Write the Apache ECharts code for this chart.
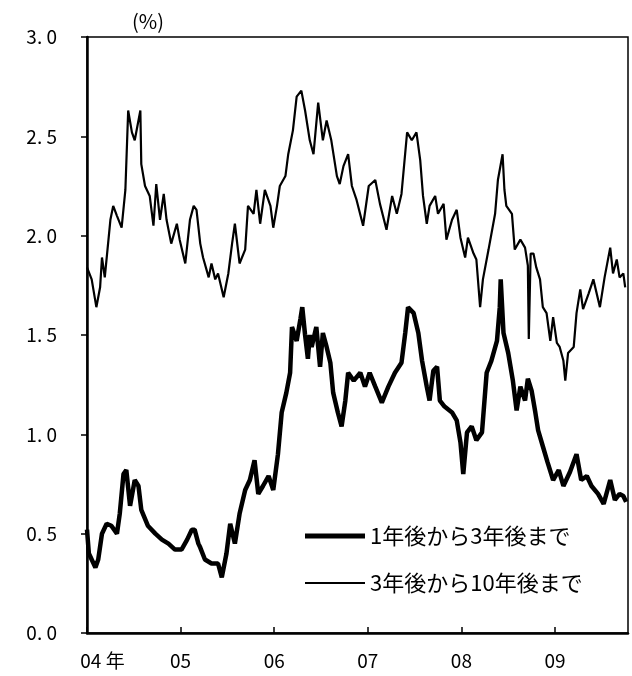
<!DOCTYPE html>
<html>
<head>
<meta charset="utf-8">
<script src="https://cdn.jsdelivr.net/npm/echarts@6/dist/echarts.min.js"></script>
<style>html,body{margin:0;padding:0;background:#fff}#c{width:632px;height:676px}</style>
</head>
<body>
<div id="c"></div>
<script>
// Series names
var seriesNames = ['1年後から3年後まで', '3年後から10年後まで'];
// x tick labels
var yearLabels = {2004: '04 年', 2005: '05', 2006: '06', 2007: '07', 2008: '08', 2009: '09'};

// 1年後から3年後まで (thick)
var thickYears = [2004.00,2004.02,2004.09,2004.12,2004.16,2004.21,2004.26,2004.32,2004.35,2004.39,2004.42,2004.46,2004.51,2004.55,2004.58,2004.65,2004.73,2004.80,2004.87,2004.94,
2005.01,2005.07,2005.12,2005.15,2005.19,2005.21,2005.26,2005.33,2005.40,2005.44,2005.49,2005.53,2005.58,2005.63,2005.69,2005.74,2005.79,2005.83,2005.88,2005.94,2005.99,
2006.04,2006.08,2006.13,2006.17,2006.19,2006.24,2006.28,2006.30,2006.33,2006.36,2006.38,2006.40,2006.45,2006.49,2006.52,2006.56,2006.60,2006.63,2006.68,2006.72,2006.76,2006.79,2006.85,2006.92,2006.97,
2007.02,2007.08,2007.15,2007.22,2007.29,2007.36,2007.40,2007.43,2007.49,2007.54,2007.58,2007.63,2007.66,2007.70,2007.74,2007.77,2007.82,2007.90,2007.95,2007.99,
2008.02,2008.06,2008.11,2008.16,2008.22,2008.27,2008.32,2008.38,2008.41,2008.42,2008.45,2008.50,2008.55,2008.59,2008.63,2008.68,2008.71,2008.75,2008.79,2008.82,2008.87,2008.92,2008.98,
2009.04,2009.09,2009.16,2009.23,2009.28,2009.34,2009.39,2009.46,2009.52,2009.59,2009.64,2009.69,2009.73,2009.76];
var thickValues = [0.52,0.40,0.33,0.37,0.50,0.55,0.54,0.50,0.60,0.80,0.82,0.64,0.77,0.74,0.62,0.54,0.50,0.47,0.45,0.42,
0.42,0.47,0.52,0.52,0.45,0.43,0.37,0.35,0.35,0.28,0.40,0.55,0.45,0.60,0.72,0.77,0.87,0.70,0.74,0.79,0.72,
0.90,1.11,1.21,1.31,1.54,1.47,1.58,1.64,1.50,1.38,1.50,1.44,1.54,1.34,1.51,1.44,1.36,1.21,1.11,1.04,1.17,1.31,1.27,1.31,1.24,
1.31,1.24,1.16,1.24,1.31,1.36,1.51,1.64,1.61,1.51,1.37,1.24,1.17,1.32,1.34,1.17,1.14,1.11,1.07,0.96,
0.80,1.01,1.04,0.97,1.01,1.31,1.37,1.47,1.64,1.78,1.51,1.41,1.27,1.12,1.24,1.17,1.28,1.22,1.11,1.02,0.94,0.86,0.77,
0.82,0.74,0.81,0.90,0.77,0.79,0.74,0.70,0.65,0.77,0.67,0.70,0.69,0.66];

// 3年後から10年後まで (thin)
var thinYears = [2004.00,2004.05,2004.10,2004.14,2004.16,2004.19,2004.25,2004.28,2004.32,2004.37,2004.41,2004.44,2004.48,2004.51,2004.57,2004.58,2004.62,2004.67,2004.71,2004.74,2004.78,2004.82,2004.85,2004.90,2004.96,2004.99,
2005.05,2005.10,2005.14,2005.17,2005.21,2005.24,2005.30,2005.33,2005.37,2005.40,2005.46,2005.51,2005.55,2005.58,2005.63,2005.69,2005.72,2005.78,2005.81,2005.85,2005.90,2005.96,2005.99,
2006.03,2006.06,2006.12,2006.15,2006.20,2006.24,2006.29,2006.33,2006.38,2006.42,2006.47,2006.52,2006.56,2006.61,2006.67,2006.70,2006.74,2006.79,2006.83,2006.88,2006.95,
2007.01,2007.08,2007.13,2007.20,2007.26,2007.31,2007.36,2007.42,2007.47,2007.52,2007.56,2007.59,2007.63,2007.66,2007.72,2007.75,2007.81,2007.84,2007.90,2007.95,2007.99,
2008.04,2008.07,2008.13,2008.16,2008.20,2008.23,2008.29,2008.36,2008.39,2008.44,2008.46,2008.48,2008.54,2008.57,2008.63,2008.68,2008.71,2008.72,2008.74,2008.77,2008.80,2008.84,2008.87,2008.91,2008.95,2008.98,
2009.02,2009.05,2009.09,2009.11,2009.14,2009.20,2009.23,2009.27,2009.30,2009.36,2009.41,2009.48,2009.53,2009.59,2009.62,2009.66,2009.69,2009.73,2009.75];
var thinValues = [1.84,1.78,1.64,1.74,1.89,1.79,2.08,2.15,2.10,2.04,2.23,2.63,2.52,2.48,2.63,2.36,2.25,2.20,2.05,2.26,2.08,2.21,2.08,1.96,2.06,1.98,
1.86,2.08,2.15,2.13,1.96,1.89,1.79,1.86,1.78,1.81,1.69,1.81,1.96,2.06,1.86,1.93,2.15,2.11,2.23,2.06,2.23,2.15,2.04,
2.15,2.25,2.30,2.41,2.53,2.70,2.73,2.63,2.48,2.41,2.67,2.48,2.58,2.48,2.30,2.26,2.35,2.41,2.25,2.18,2.05,
2.25,2.28,2.16,2.03,2.20,2.11,2.21,2.52,2.48,2.52,2.38,2.20,2.06,2.15,2.20,2.11,2.16,1.98,2.08,2.13,1.99,
1.89,1.99,1.91,1.88,1.64,1.78,1.93,2.11,2.28,2.41,2.23,2.15,2.11,1.93,1.98,1.94,1.85,1.48,1.91,1.91,1.84,1.78,1.64,1.61,1.47,1.59,
1.46,1.44,1.37,1.27,1.41,1.44,1.61,1.73,1.63,1.71,1.78,1.64,1.79,1.94,1.81,1.88,1.79,1.81,1.74];

function zip(xs, ys) { return xs.map(function (x, i) { return [x, ys[i]]; }); }

var FONT = '"Noto Sans CJK JP", "Noto Sans", sans-serif';
var chart = echarts.init(document.getElementById('c'), null, {renderer: 'canvas'});
chart.setOption({
  animation: false,
  backgroundColor: '#fff',
  textStyle: {fontFamily: FONT, color: '#000'},
  title: {text: '(%)', left: 127, top: 6, textStyle: {fontSize: 20, fontWeight: 'normal', color: '#000', fontFamily: FONT}},
  grid: {left: 87, right: 4, top: 37, bottom: 43, show: true, borderColor: '#000', borderWidth: 1.5},
  legend: {
    orient: 'vertical', left: 300, top: 520, itemWidth: 60, itemHeight: 14, itemGap: 25,
    textStyle: {fontSize: 22, color: '#000', fontFamily: FONT},
    itemStyle: {borderWidth: 0},
    data: [
      {name: seriesNames[0], icon: 'path://M0,0L60,0L60,5L0,5Z'},
      {name: seriesNames[1], icon: 'path://M0,0L60,0L60,1.8L0,1.8Z'}
    ]
  },
  xAxis: {
    type: 'value', min: 2004, max: 2009.78, interval: 1,
    axisLine: {lineStyle: {color: '#000', width: 2.5}},
    axisTick: {inside: true, length: 6, lineStyle: {color: '#000', width: 1.5}},
    splitLine: {show: false},
    axisLabel: {
      margin: 18, fontSize: 19, color: '#000', fontFamily: FONT, showMaxLabel: false,
      formatter: function (v) {
        var t = yearLabels[Math.round(v)] || '';
        return v === 2004 ? '{a|' + t + '}' : t;
      },
      rich: {a: {fontSize: 19, color: '#000', fontFamily: FONT, padding: [0, 0, 0, 31]}}
    }
  },
  yAxis: {
    type: 'value', min: 0, max: 3, interval: 0.5,
    axisLine: {show: true, lineStyle: {color: '#000', width: 2.5}},
    axisTick: {show: true, length: 6, lineStyle: {color: '#000', width: 1.5}},
    splitLine: {show: false},
    axisLabel: {
      margin: 30, fontSize: 19, color: '#000', fontFamily: FONT,
      formatter: function (v) { return v.toFixed(1).replace('.', '. '); }
    }
  },
  series: [
    {name: seriesNames[0], type: 'line', data: zip(thickYears, thickValues), symbol: 'none', showSymbol: false,
     lineStyle: {width: 4.5, color: '#000'}, itemStyle: {color: '#000'}, z: 3},
    {name: seriesNames[1], type: 'line', data: zip(thinYears, thinValues), symbol: 'none', showSymbol: false,
     lineStyle: {width: 2.2, color: '#000'}, itemStyle: {color: '#000'}, z: 2}
  ]
});
</script>
</body>
</html>
